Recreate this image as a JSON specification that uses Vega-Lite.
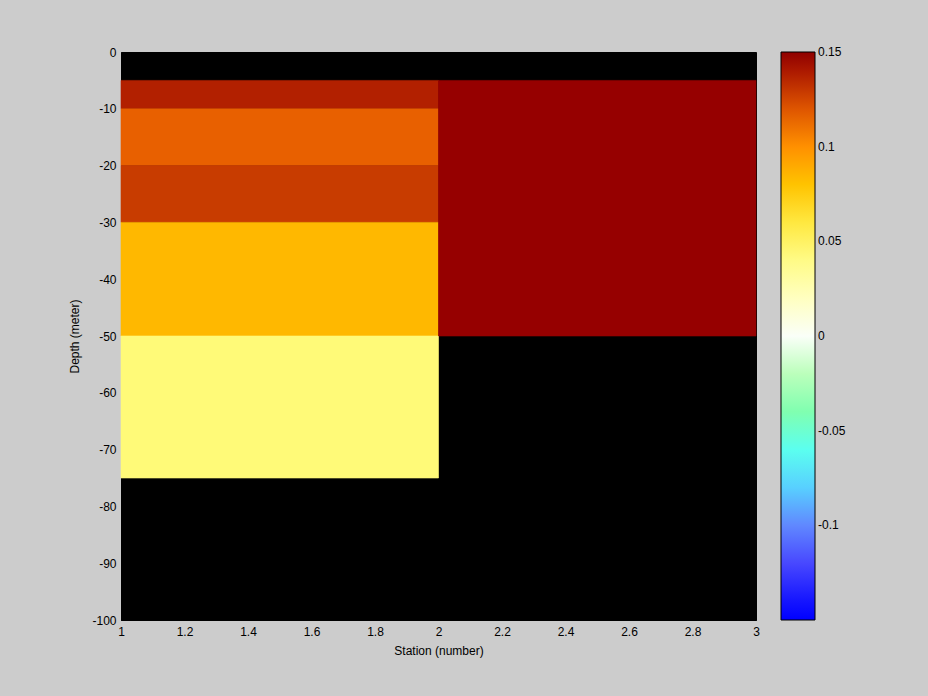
{
  "$schema": "https://vega.github.io/schema/vega-lite/v6.json",
  "width": 635,
  "height": 568,
  "autosize": "none",
  "padding": {"left": 121, "top": 52, "right": 172, "bottom": 76},
  "background": "#CCCCCC",
  "config": {
    "view": {"fill": "#000000", "stroke": "#000000"},
    "font": "Liberation Sans",
    "axis": {"labelFont": "Liberation Sans", "titleFont": "Liberation Sans", "labelFontSize": 12, "titleFontSize": 12, "labelColor": "#000000", "titleColor": "#000000", "titleFontWeight": "normal", "grid": false, "ticks": false, "domainColor": "#000000"},
    "legend": {"labelFont": "Liberation Sans", "labelFontSize": 12, "labelColor": "#000000"}
  },
  "data": {
    "values": [
      {"station_start": 1, "station_end": 2, "depth_top": -5, "depth_bottom": -10, "value": 0.138},
      {"station_start": 1, "station_end": 2, "depth_top": -10, "depth_bottom": -20, "value": 0.117},
      {"station_start": 1, "station_end": 2, "depth_top": -20, "depth_bottom": -30, "value": 0.127},
      {"station_start": 1, "station_end": 2, "depth_top": -30, "depth_bottom": -50, "value": 0.085},
      {"station_start": 1, "station_end": 2, "depth_top": -50, "depth_bottom": -75, "value": 0.045},
      {"station_start": 2, "station_end": 3, "depth_top": -5, "depth_bottom": -50, "value": 0.147}
    ]
  },
  "mark": {"type": "rect", "strokeWidth": 0.6, "stroke": {"expr": "scale('color', datum.value)"}},
  "encoding": {
    "x": {"field": "station_start", "type": "quantitative", "scale": {"domain": [1, 3], "nice": false, "zero": false},
      "axis": {"title": "Station (number)", "values": [1, 1.2, 1.4, 1.6, 1.8, 2, 2.2, 2.4, 2.6, 2.8, 3], "format": "~g", "labelPadding": 6, "titlePadding": 8, "labelFlush": false}},
    "x2": {"field": "station_end"},
    "y": {"field": "depth_top", "type": "quantitative", "scale": {"domain": [-100, 0], "nice": false, "zero": false},
      "axis": {"title": "Depth (meter)", "values": [0, -10, -20, -30, -40, -50, -60, -70, -80, -90, -100], "labelExpr": "replace(datum.label, '−', '-')", "labelPadding": 5, "titlePadding": 10, "labelFlush": false}},
    "y2": {"field": "depth_bottom"},
    "color": {"field": "value", "type": "quantitative",
      "scale": {
        "domain": [-0.15, -0.135, -0.12, -0.1, -0.09, -0.08, -0.065, -0.05, -0.03, -0.015, 0, 0.02, 0.045, 0.06, 0.07, 0.085, 0.1, 0.11, 0.117, 0.127, 0.138, 0.147, 0.15],
        "range": ["#0000FF", "#2020FF", "#4848FF", "#6088FF", "#60B0FF", "#58D0FF", "#50FFFF", "#70FFD0", "#90FF90", "#D0FFD0", "#FAFFF8", "#FFFFC0", "#FFFA78", "#FFE840", "#FFD800", "#FFB800", "#FF9000", "#FF8000", "#E86000", "#C83C00", "#B22000", "#960000", "#900000"],
        "interpolate": "rgb"
      },
      "legend": {"type": "gradient", "title": null, "orient": "none", "legendX": 660, "legendY": 0, "direction": "vertical", "gradientLength": 568, "gradientThickness": 34, "gradientStrokeColor": "#000000", "gradientStrokeWidth": 1, "values": [-0.1, -0.05, 0, 0.05, 0.1, 0.15], "format": "~g", "labelExpr": "replace(datum.label, '−', '-')", "labelOffset": 3, "labelOverlap": false,
        "encode": {"labels": {"update": {"baseline": {"value": "middle"}}}}}
    }
  }
}
